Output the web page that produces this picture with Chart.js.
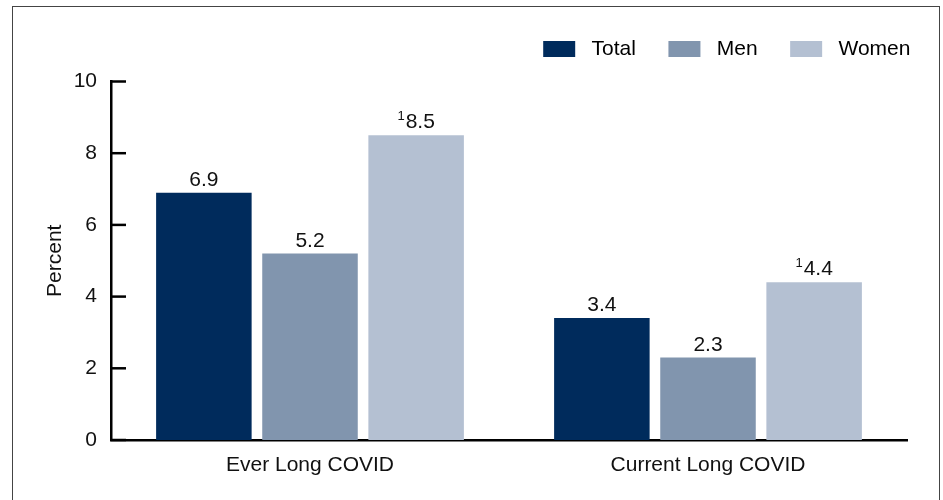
<!DOCTYPE html>
<html>
<head>
<meta charset="utf-8">
<script src="https://cdn.jsdelivr.net/npm/chart.js@4"></script>
<style>
  html, body { margin: 0; padding: 0; background: #fff; }
  #wrap { position: relative; width: 943px; height: 500px; overflow: hidden; }
  #marco { position: absolute; left: 12px; top: 6px; width: 928px; height: 520px; border: 1px solid #444; box-sizing: border-box; }
  #grafico { position: absolute; left: 0; top: 0; }
</style>
</head>
<body>
<div id="wrap">
  <div id="marco"></div>
  <canvas id="grafico" width="943" height="500"></canvas>
</div>
<script>
const categorias = ['Ever Long COVID', 'Current Long COVID'];
const series = ['Total', 'Men', 'Women'];
const valoresTotal = [6.9, 3.4];
const valoresMen = [5.2, 2.3];
const valoresWomen = [8.5, 4.4];
const notas = ['', '', '1']; // footnote mark shown as superscript before the value
const ticksY = [0, 2, 4, 6, 8, 10];
const colores = ['#002b5c', '#8195ae', '#b4c0d2'];

const fuente = 'Arial, "Liberation Sans", sans-serif';
const tamFuente = 21;

const datasets = [valoresTotal, valoresMen, valoresWomen].map((data, i) => ({
    label: series[i],
    data,
    backgroundColor: colores[i],
    borderWidth: 0
}));

// short tick marks drawn inside the plot, to the right of the y axis
const marcasY = {
    id: 'marcasY',
    afterDraw(chart) {
        const ctx = chart.ctx;
        const y = chart.scales.y;
        ctx.save();
        ctx.strokeStyle = '#000';
        ctx.lineWidth = 2.5;
        ticksY.forEach(v => {
            const py = y.getPixelForValue(v);
            ctx.beginPath();
            ctx.moveTo(y.right, py);
            ctx.lineTo(y.right + 15, py);
            ctx.stroke();
        });
        ctx.restore();
    }
};

// value labels above each bar
const etiquetas = {
    id: 'etiquetas',
    afterDatasetsDraw(chart) {
        const ctx = chart.ctx;
        ctx.save();
        ctx.fillStyle = '#111';
        ctx.textBaseline = 'alphabetic';
        ctx.textAlign = 'left';
        chart.data.datasets.forEach((ds, i) => {
            const meta = chart.getDatasetMeta(i);
            meta.data.forEach((bar, j) => {
                const texto = ds.data[j].toFixed(1);
                const nota = notas[i];
                ctx.font = tamFuente + 'px ' + fuente;
                const anchoTexto = ctx.measureText(texto).width;
                ctx.font = '13px ' + fuente;
                const anchoNota = nota ? ctx.measureText(nota).width + 1 : 0;
                const x0 = bar.x - (anchoTexto + anchoNota) / 2;
                const base = bar.y - 7;
                if (nota) {
                    ctx.fillText(nota, x0, base - 8);
                }
                ctx.font = tamFuente + 'px ' + fuente;
                ctx.fillText(texto, x0 + anchoNota, base);
            });
        });
        ctx.restore();
    }
};

const ctx = document.getElementById('grafico').getContext('2d');
const grafico = new Chart(ctx, {
    type: 'bar',
    data: { labels: categorias, datasets },
    options: {
        responsive: false,
        animation: false,
        layout: { padding: { top: 16, left: 0, right: 0, bottom: 0 } },
        plugins: {
            tooltip: { enabled: false },
            // empty title used only as a gap between the legend and the plot
            title: {
                display: true,
                text: '',
                weight: 500,
                font: { size: 10 },
                padding: { top: 0, bottom: 0 }
            },
            legend: {
                position: 'top',
                align: 'end',
                labels: {
                    boxWidth: 32,
                    boxHeight: 16,
                    padding: 22.5,
                    color: '#111',
                    font: { family: fuente, size: tamFuente },
                    generateLabels: (chart) => chart.data.datasets.map((ds, i) => ({
                        text: ' ' + ds.label + ' \u2009',
                        fillStyle: ds.backgroundColor,
                        strokeStyle: ds.backgroundColor,
                        lineWidth: 0,
                        datasetIndex: i
                    }))
                }
            }
        },
        scales: {
            x: {
                grid: { display: false, drawTicks: false },
                border: { display: true, color: '#000', width: 2.5 },
                ticks: { color: '#111', font: { family: fuente, size: tamFuente }, padding: 13 },
                afterFit: (s) => { s.height = 60; }
            },
            y: {
                min: 0,
                max: 10,
                afterBuildTicks: (s) => { s.ticks = ticksY.map(v => ({ value: v })); },
                grid: { display: false, drawTicks: false },
                border: { display: true, color: '#000', width: 2.5 },
                ticks: { color: '#111', font: { family: fuente, size: tamFuente }, padding: 14 },
                title: {
                    display: true,
                    text: 'Percent',
                    color: '#111',
                    font: { family: fuente, size: tamFuente },
                    padding: { top: 43, bottom: 0 }
                },
                afterFit: (s) => { s.width = 111; }
            },
            derecha: {
                position: 'right',
                display: true,
                grid: { display: false, drawTicks: false },
                border: { display: false },
                ticks: { display: false },
                afterFit: (s) => { s.width = 36; }
            }
        }
    },
    plugins: [marcasY, etiquetas]
});
</script>
</body>
</html>
